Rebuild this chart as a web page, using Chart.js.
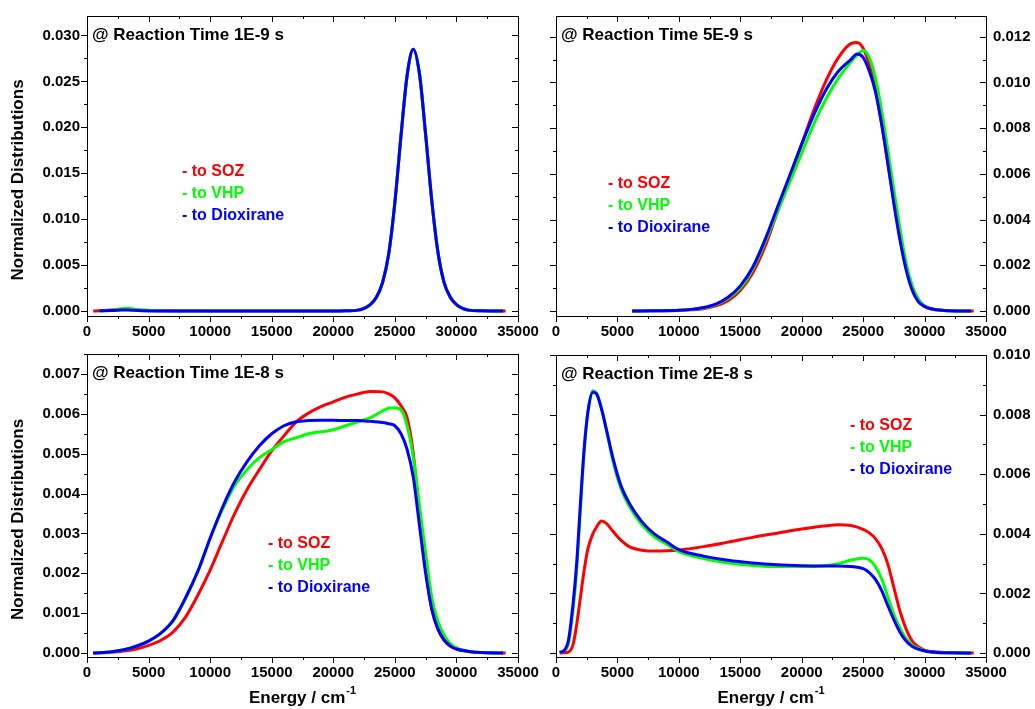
<!DOCTYPE html>
<html>
<head>
<meta charset="utf-8">
<script src="https://cdn.jsdelivr.net/npm/chart.js@4.4.0/dist/chart.umd.min.js"></script>
<style>
  html, body { margin: 0; padding: 0; background: #fff; }
  #wrap { position: relative; width: 1035px; height: 709px; }
  canvas { position: absolute; left: 0; top: 0; }
</style>
</head>
<body>
<div id="wrap">
  <canvas id="c1" width="1035" height="709"></canvas>
  <canvas id="c2" width="1035" height="709"></canvas>
  <canvas id="c3" width="1035" height="709"></canvas>
  <canvas id="c4" width="1035" height="709"></canvas>
</div>
<script>
// Series names and tick labels
const seriesNames = ['- to SOZ', '- to VHP', '- to Dioxirane'];
const xTicks = [0, 5000, 10000, 15000, 20000, 25000, 30000, 35000];

// @ 1E-9 s
const energy1 = [500, 1000, 2000, 2800, 3300, 3800, 4500, 6000, 10000, 15000, 20000, 21000, 22000, 22500, 23000, 23500, 24000, 24500, 25000, 25500, 26000, 26500, 27000, 27500, 28000, 28500, 29000, 29500, 30000, 30500, 31000, 32000, 33800, 34000];
const soz1  = [0, 0.00003, 0.0001, 0.00018, 0.0002, 0.00015, 0.00008, 0.00002, 0, 0, 0, 0.00002, 0.0001, 0.0003, 0.0007, 0.0015, 0.0031, 0.0062, 0.0118, 0.0191, 0.0257, 0.0285, 0.0258, 0.0192, 0.012, 0.0064, 0.0031, 0.0015, 0.0007, 0.0003, 0.0001, 0.00002, 0, 0];
const vhp1  = [null, 0.00002, 0.0001, 0.00025, 0.0003, 0.0002, 0.0001, 0.00003, 0, 0, 0, 0.00002, 0.0001, 0.0003, 0.0007, 0.0015, 0.0031, 0.0062, 0.0118, 0.0191, 0.0257, 0.0285, 0.0258, 0.0192, 0.012, 0.0064, 0.0031, 0.0015, 0.0007, 0.0003, 0.0001, 0.00002, 0, null];
const diox1 = [null, 0.00002, 0.00005, 0.0001, 0.00012, 0.00008, 0.00004, 0.00001, 0, 0, 0, 0.00002, 0.0001, 0.0003, 0.0007, 0.0015, 0.0031, 0.0062, 0.0118, 0.0191, 0.0257, 0.0285, 0.0258, 0.0192, 0.012, 0.0064, 0.0031, 0.0015, 0.0007, 0.0003, 0.0001, 0.00002, 0, null];

// @ 5E-9 s
const energy2 = [6200, 8000, 10000, 11000, 12000, 13000, 14000, 15000, 16000, 17000, 18000, 19000, 20000, 21000, 22000, 23000, 24000, 24500, 25000, 25500, 26000, 26500, 27000, 27500, 28000, 28500, 29000, 29500, 30000, 31000, 32000, 33800, 34000];
const soz2  = [0, 0.00001, 0.00002, 0.00005, 0.0001, 0.00022, 0.00045, 0.0009, 0.00165, 0.0028, 0.0043, 0.0058, 0.0073, 0.0088, 0.0101, 0.0111, 0.0117, 0.01175, 0.0115, 0.0108, 0.0097, 0.0082, 0.0065, 0.0048, 0.0032, 0.0019, 0.001, 0.0005, 0.0002, 0.00005, 0.00001, 0, 0];
const vhp2  = [0, 0.00001, 0.00003, 0.00007, 0.00013, 0.00028, 0.00055, 0.001, 0.0018, 0.003, 0.0043, 0.0056, 0.0069, 0.0082, 0.0093, 0.0102, 0.0109, 0.0112, 0.0114, 0.0111, 0.0102, 0.0088, 0.0071, 0.0053, 0.0036, 0.0021, 0.0011, 0.0005, 0.00022, 0.00005, 0.00001, 0, null];
const diox2 = [0, 0.00001, 0.00003, 0.00007, 0.00015, 0.0003, 0.0006, 0.0011, 0.0019, 0.0031, 0.0045, 0.0059, 0.0073, 0.0086, 0.0097, 0.0105, 0.011, 0.01125, 0.0111, 0.0105, 0.0096, 0.0082, 0.0065, 0.0047, 0.0031, 0.0018, 0.0009, 0.0004, 0.0002, 0.00005, 0.00001, 0, null];

// @ 1E-8 s
const energy3 = [500, 2000, 3000, 4000, 5000, 6000, 7000, 8000, 9000, 10000, 11000, 12000, 13000, 14000, 15000, 16000, 17000, 18000, 19000, 20000, 21000, 22000, 23000, 24000, 24500, 25000, 25500, 26000, 26500, 27000, 27500, 28000, 28500, 29000, 29500, 30000, 31000, 32000, 33800, 34000];
const soz3  = [0, 0.00002, 0.00005, 0.0001, 0.00019, 0.00032, 0.00053, 0.0009, 0.00145, 0.00208, 0.0028, 0.0035, 0.0041, 0.0046, 0.00507, 0.00545, 0.0058, 0.00602, 0.00618, 0.0063, 0.00642, 0.0065, 0.00656, 0.00655, 0.0065, 0.0064, 0.0062, 0.0059, 0.005, 0.0034, 0.0021, 0.0011, 0.0006, 0.00032, 0.00017, 0.0001, 0.00004, 0.00001, 0, 0];
const vhp3  = [0, 0.00003, 0.00008, 0.00017, 0.0003, 0.0005, 0.00082, 0.00138, 0.00205, 0.00288, 0.0036, 0.0042, 0.0046, 0.0049, 0.0051, 0.0053, 0.0054, 0.0055, 0.00555, 0.0056, 0.0057, 0.0058, 0.0059, 0.00607, 0.00614, 0.00615, 0.0061, 0.0057, 0.0049, 0.0037, 0.0025, 0.0014, 0.0008, 0.00045, 0.00024, 0.00013, 0.00004, 0.00001, 0, null];
const diox3 = [0, 0.00003, 0.00008, 0.00017, 0.0003, 0.0005, 0.00082, 0.00138, 0.00205, 0.00288, 0.00365, 0.0043, 0.0048, 0.0052, 0.0055, 0.0057, 0.0058, 0.00583, 0.00584, 0.00584, 0.00583, 0.00583, 0.00581, 0.00578, 0.00575, 0.0057, 0.0055, 0.0051, 0.0044, 0.0032, 0.002, 0.0011, 0.0006, 0.00033, 0.00018, 0.0001, 0.00004, 0.00001, 0, null];

// @ 2E-8 s
const energy4 = [300, 700, 1000, 1400, 1700, 2000, 2300, 2600, 3000, 3300, 3700, 4100, 4600, 5300, 6000, 7000, 8000, 9000, 10000, 12000, 14000, 16000, 18000, 20000, 22000, 23000, 24000, 25000, 25500, 26000, 26500, 27000, 27500, 28000, 28500, 29000, 30000, 31000, 32000, 33800, 34000];
const soz4  = [0, 0.00001, 0.00003, 0.0003, 0.001, 0.0019, 0.0028, 0.0035, 0.004, 0.00423, 0.00443, 0.00435, 0.0041, 0.00378, 0.00356, 0.00345, 0.00342, 0.00343, 0.00346, 0.00357, 0.00372, 0.00388, 0.00402, 0.00416, 0.00427, 0.0043, 0.00428, 0.00415, 0.00403, 0.00384, 0.00352, 0.003, 0.0022, 0.0014, 0.0008, 0.0004, 0.0001, 0.00003, 0.00001, 0, 0];
const vhp4  = [0.00001, 0.00008, 0.0003, 0.0015, 0.0029, 0.0049, 0.0068, 0.0081, 0.0088, 0.0087, 0.0082, 0.0075, 0.0065, 0.0055, 0.0049, 0.0043, 0.0039, 0.00365, 0.0034, 0.00317, 0.00302, 0.00294, 0.0029, 0.0029, 0.00294, 0.003, 0.00312, 0.00318, 0.00313, 0.0029, 0.0025, 0.0019, 0.0013, 0.00083, 0.00048, 0.00026, 0.00008, 0.00002, 0.00001, 0, null];
const diox4 = [0.00002, 0.0001, 0.0004, 0.0017, 0.0031, 0.0051, 0.0069, 0.0081, 0.00875, 0.0087, 0.0082, 0.0075, 0.0066, 0.0056, 0.005, 0.0044, 0.004, 0.00373, 0.00347, 0.00325, 0.00311, 0.00302, 0.00296, 0.00293, 0.00292, 0.00292, 0.0029, 0.00283, 0.0027, 0.00247, 0.0021, 0.0016, 0.00112, 0.0007, 0.0004, 0.00022, 0.00007, 0.00002, 0.00001, 0, null];

const colors = ['#ff0000', '#00ff00', '#0000ff'];
const FONT = '"Liberation Sans", Arial, Helvetica, sans-serif';

const panels = [
  { id: 'c1', energy: energy1, series: [soz1, vhp1, diox1], yMin: -0.00054, yMax: 0.03212, yStep: 0.005,
    area: [87, 14, 518, 316], side: 'left', title: '@ Reaction Time 1E-9 s', legend: [182, 172], xTitle: false },
  { id: 'c2', energy: energy2, series: [soz2, vhp2, diox2], yMin: -0.00022, yMax: 0.01291, yStep: 0.002,
    area: [556, 14, 986, 316], side: 'right', title: '@ Reaction Time 5E-9 s', legend: [608, 184], xTitle: false },
  { id: 'c3', energy: energy3, series: [soz3, vhp3, diox3], yMin: -0.0001, yMax: 0.0075, yStep: 0.001,
    area: [87, 354, 518, 657], side: 'left', title: '@ Reaction Time 1E-8 s', legend: [268, 544], xTitle: true },
  { id: 'c4', energy: energy4, series: [soz4, vhp4, diox4], yMin: -0.000134, yMax: 0.010, yStep: 0.002,
    area: [556, 355, 986, 657], side: 'right', title: '@ Reaction Time 2E-8 s', legend: [850, 426], xTitle: true }
];

// frame, minor ticks, and the texts drawn inside each panel
const framePlugin = {
  id: 'frame',
  afterDraw(chart, args, opts) {
    const { ctx, chartArea: a } = chart;
    const x = chart.scales.x, y = chart.scales.y;
    ctx.save();
    ctx.strokeStyle = '#000';
    ctx.lineWidth = 1;
    ctx.strokeRect(a.left + 0.5, a.top + 0.5, a.right - a.left, a.bottom - a.top);

    ctx.beginPath();
    for (let v = 0; v <= 35000; v += 2500) {
      const px = Math.round(x.getPixelForValue(v)) + 0.5;
      const len = v % 5000 === 0 ? 6 : 3;
      ctx.moveTo(px, a.bottom); ctx.lineTo(px, a.bottom + len);
      ctx.moveTo(px, a.top); ctx.lineTo(px, a.top + len);
    }
    const minor = opts.step / 2;
    for (let k = 0; k * minor <= y.max + 1e-12; k++) {
      const py = Math.round(y.getPixelForValue(k * minor)) + 0.5;
      const len = k % 2 === 0 ? 6 : 3;
      ctx.moveTo(a.left, py); ctx.lineTo(a.left - len, py);
      ctx.moveTo(a.right, py); ctx.lineTo(a.right - len, py);
    }
    ctx.stroke();

    ctx.fillStyle = '#000';
    ctx.textBaseline = 'middle';
    ctx.textAlign = 'left';
    ctx.font = 'bold 17px ' + FONT;
    ctx.fillText(opts.title, a.left + 5, a.top + 19);

    ctx.font = 'bold 16px ' + FONT;
    seriesNames.forEach((name, i) => {
      ctx.fillStyle = colors[i];
      ctx.fillText(name, opts.legend[0], opts.legend[1] + i * 22);
    });

    ctx.fillStyle = '#000';
    if (opts.side === 'left') {
      ctx.save();
      ctx.translate(18, (a.top + a.bottom) / 2 + 14);
      ctx.rotate(-Math.PI / 2);
      ctx.textAlign = 'center';
      ctx.font = 'bold 17px ' + FONT;
      ctx.fillText('Normalized Distributions', 0, 0);
      ctx.restore();
    }
    if (opts.xTitle) {
      ctx.font = 'bold 17px ' + FONT;
      const main = 'Energy / cm';
      const w1 = ctx.measureText(main).width;
      ctx.font = 'bold 11px ' + FONT;
      const w2 = ctx.measureText('-1').width;
      const start = (a.left + a.right) / 2 - (w1 + w2 + 1) / 2;
      ctx.font = 'bold 17px ' + FONT;
      ctx.fillText(main, start, 698);
      ctx.font = 'bold 11px ' + FONT;
      ctx.fillText('-1', start + w1 + 1, 691);
    }
    ctx.restore();
  }
};

panels.forEach(p => {
  const [left, top, right, bottom] = p.area;
  const yWidth = p.side === 'left' ? left : 49;
  const padding = {
    top: top,
    bottom: 709 - bottom - 30,
    left: p.side === 'left' ? 0 : left,
    right: p.side === 'left' ? 1035 - right : 1035 - right - yWidth
  };
  const datasets = p.series.map((vals, i) => ({
    label: seriesNames[i],
    data: p.energy.map((e, j) => ({ x: e, y: vals[j] })),
    borderColor: colors[i],
    borderWidth: 3,
    pointRadius: 0,
    fill: false,
    cubicInterpolationMode: 'monotone',
    order: 2 - i
  }));
  const tickFont = { family: FONT, size: 15, weight: 'bold' };

  new Chart(document.getElementById(p.id), {
    type: 'line',
    data: { datasets: datasets },
    options: {
      responsive: false,
      animation: false,
      events: [],
      layout: { padding: padding },
      plugins: {
        legend: { display: false },
        tooltip: { enabled: false },
        frame: { title: p.title, legend: p.legend, side: p.side, xTitle: p.xTitle, step: p.yStep }
      },
      scales: {
        x: {
          type: 'linear',
          min: xTicks[0],
          max: xTicks[xTicks.length - 1],
          afterFit: s => { s.height = 30; },
          afterBuildTicks: s => { s.ticks = xTicks.map(v => ({ value: v })); },
          grid: { display: false, drawTicks: true, tickLength: 0 },
          border: { display: false },
          ticks: {
            font: tickFont, color: '#000', padding: 7,
            autoSkip: false, maxRotation: 0,
            callback: v => String(v)
          }
        },
        y: {
          type: 'linear',
          position: p.side,
          min: p.yMin,
          max: p.yMax,
          afterFit: s => { s.width = yWidth; },
          grid: { display: false, drawTicks: true, tickLength: 0 },
          border: { display: false },
          ticks: {
            stepSize: p.yStep,
            includeBounds: false,
            font: tickFont, color: '#000', padding: 7,
            callback: v => (Math.abs(v) < 1e-12 ? 0 : v).toFixed(3)
          }
        }
      }
    },
    plugins: [framePlugin]
  });
});
</script>
</body>
</html>
